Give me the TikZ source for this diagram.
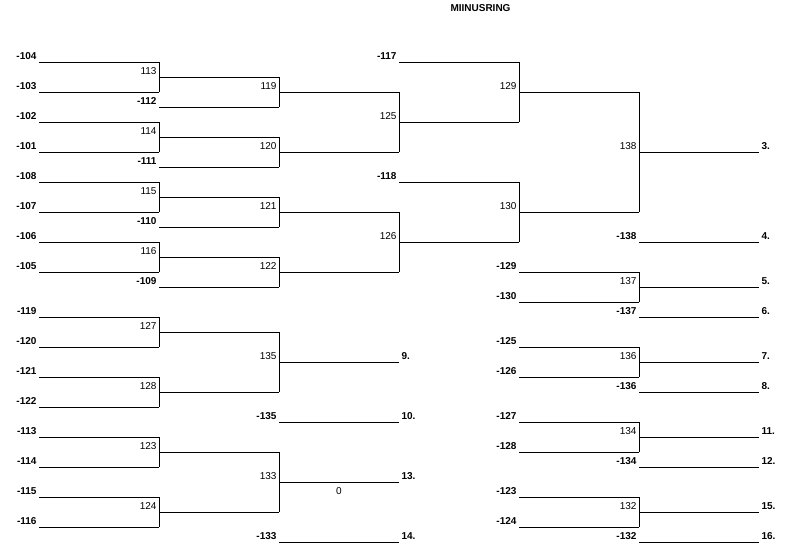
\documentclass[tikz,border=0pt]{standalone}
\usepackage{fontspec}
\setmainfont{Liberation Sans}

% one bracket line: name, left x, y, label, label style
\newcommand\brline[5]{%
  \coordinate (#1-l) at (#2,#3);
  \coordinate (#1-r) at (#2+120,#3);
  \draw (#1-l) -- (#1-r);
  \node[#5, anchor=base east] (#1-t) at (#2-2,#3-3) {#4};
}

\tikzset{
  seed/.style={inner sep=0pt, font=\fontsize{10}{12}\selectfont\bfseries},
  match/.style={inner sep=0pt, font=\fontsize{10}{12}\selectfont},
  place/.style={inner sep=0pt, anchor=base west, font=\fontsize{10}{12}\selectfont\bfseries}
}

\begin{document}
\begin{tikzpicture}[x=1pt, y=-1pt, line width=1pt]
\useasboundingbox (0,0) rectangle (787,552);

\node[seed, anchor=base] (title) at (480.5,11.7) {MIINUSRING};

% first column
\foreach \n/\y in {104/62,103/92,102/122,101/152,108/182,107/212,106/242,105/272,
                   119/317,120/347,121/377,122/407,113/437,114/467,115/497,116/527}
  {\brline{e\n}{39}{\y}{-\n}{seed}}

% second column
\brline{m113}{159}{77}{113}{match}
\brline{l112}{159}{107}{-112}{seed}
\brline{m114}{159}{137}{114}{match}
\brline{l111}{159}{167}{-111}{seed}
\brline{m115}{159}{197}{115}{match}
\brline{l110}{159}{227}{-110}{seed}
\brline{m116}{159}{257}{116}{match}
\brline{l109}{159}{287}{-109}{seed}
\brline{m127}{159}{332}{127}{match}
\brline{m128}{159}{392}{128}{match}
\brline{m123}{159}{452}{123}{match}
\brline{m124}{159}{512}{124}{match}

% third column
\brline{m119}{279}{92}{119}{match}
\brline{m120}{279}{152}{120}{match}
\brline{m121}{279}{212}{121}{match}
\brline{m122}{279}{272}{122}{match}
\brline{m135}{279}{362}{135}{match}
\brline{l135}{279}{422}{-135}{seed}
\brline{m133}{279}{482}{133}{match}
\brline{l133}{279}{542}{-133}{seed}

% fourth column
\brline{l117}{399}{62}{-117}{seed}
\brline{m125}{399}{122}{125}{match}
\brline{l118}{399}{182}{-118}{seed}
\brline{m126}{399}{242}{126}{match}

% fifth column
\brline{m129}{519}{92}{129}{match}
\brline{m130}{519}{212}{130}{match}
\foreach \n/\y in {129/272,130/302,125/347,126/377,127/422,128/452,123/497,124/527}
  {\brline{l\n}{519}{\y}{-\n}{seed}}

% sixth column
\brline{m138}{639}{152}{138}{match}
\brline{l138}{639}{242}{-138}{seed}
\brline{m137}{639}{287}{137}{match}
\brline{l137}{639}{317}{-137}{seed}
\brline{m136}{639}{362}{136}{match}
\brline{l136}{639}{392}{-136}{seed}
\brline{m134}{639}{437}{134}{match}
\brline{l134}{639}{467}{-134}{seed}
\brline{m132}{639}{512}{132}{match}
\brline{l132}{639}{542}{-132}{seed}

% verticals
\draw (e104-r) -- (e103-r);
\draw (e102-r) -- (e101-r);
\draw (e108-r) -- (e107-r);
\draw (e106-r) -- (e105-r);
\draw (e119-r) -- (e120-r);
\draw (e121-r) -- (e122-r);
\draw (e113-r) -- (e114-r);
\draw (e115-r) -- (e116-r);
\draw (m113-r) -- (l112-r);
\draw (m114-r) -- (l111-r);
\draw (m115-r) -- (l110-r);
\draw (m116-r) -- (l109-r);
\draw (m127-r) -- (m128-r);
\draw (m123-r) -- (m124-r);
\draw (m119-r) -- (m120-r);
\draw (m121-r) -- (m122-r);
\draw (l117-r) -- (m125-r);
\draw (l118-r) -- (m126-r);
\draw (m129-r) -- (m130-r);
\draw (l129-r) -- (l130-r);
\draw (l125-r) -- (l126-r);
\draw (l127-r) -- (l128-r);
\draw (l123-r) -- (l124-r);

% places
\node[place] (p3) at ([shift={(2,-3)}]m138-r) {3.};
\node[place] (p4) at ([shift={(2,-3)}]l138-r) {4.};
\node[place] (p5) at ([shift={(2,-3)}]m137-r) {5.};
\node[place] (p6) at ([shift={(2,-3)}]l137-r) {6.};
\node[place] (p7) at ([shift={(2,-3)}]m136-r) {7.};
\node[place] (p8) at ([shift={(2,-3)}]l136-r) {8.};
\node[place] (p9) at ([shift={(2,-3)}]m135-r) {9.};
\node[place] (p10) at ([shift={(2,-3)}]l135-r) {10.};
\node[place] (p11) at ([shift={(2,-3)}]m134-r) {11.};
\node[place] (p12) at ([shift={(2,-3)}]l134-r) {12.};
\node[place] (p13) at ([shift={(2,-3)}]m133-r) {13.};
\node[place] (p14) at ([shift={(2,-3)}]l133-r) {14.};
\node[place] (p15) at ([shift={(2,-3)}]m132-r) {15.};
\node[place] (p16) at ([shift={(2,-3)}]l132-r) {16.};
\node[match, anchor=base] (zero) at ([shift={(-60,12)}]m133-r) {0};
\end{tikzpicture}
\end{document}
